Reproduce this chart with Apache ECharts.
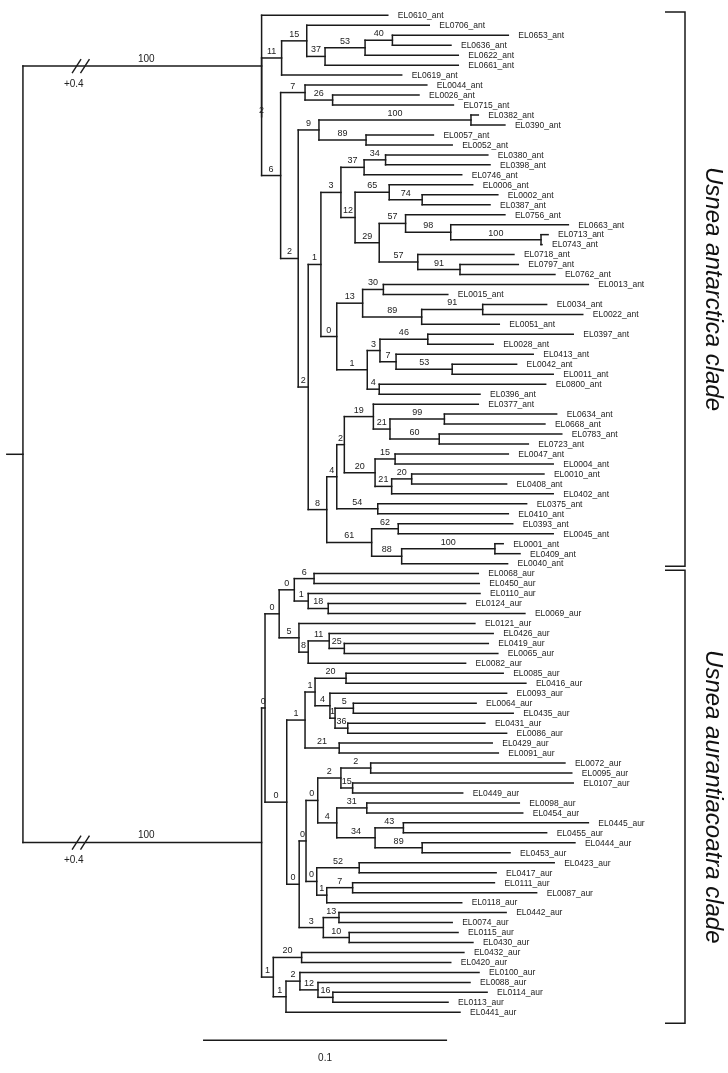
<!DOCTYPE html>
<html>
<head>
<meta charset="utf-8">
<script src="https://cdn.jsdelivr.net/npm/echarts@6/dist/echarts.min.js"></script>
<style>
html,body{margin:0;padding:0;background:#fff;}
#chart{width:728px;height:1073px;}
</style>
</head>
<body>
<div id="chart"></div>
<script>
// ---------------- DATA ----------------
// Leaf (terminal) names, top to bottom
const leafNames = [
 'EL0610_ant','EL0706_ant','EL0653_ant','EL0636_ant','EL0622_ant','EL0661_ant','EL0619_ant','EL0044_ant','EL0026_ant','EL0715_ant',
 'EL0382_ant','EL0390_ant','EL0057_ant','EL0052_ant','EL0380_ant','EL0398_ant','EL0746_ant','EL0006_ant','EL0002_ant','EL0387_ant',
 'EL0756_ant','EL0663_ant','EL0713_ant','EL0743_ant','EL0718_ant','EL0797_ant','EL0762_ant','EL0013_ant','EL0015_ant','EL0034_ant',
 'EL0022_ant','EL0051_ant','EL0397_ant','EL0028_ant','EL0413_ant','EL0042_ant','EL0011_ant','EL0800_ant','EL0396_ant','EL0377_ant',
 'EL0634_ant','EL0668_ant','EL0783_ant','EL0723_ant','EL0047_ant','EL0004_ant','EL0010_ant','EL0408_ant','EL0402_ant','EL0375_ant',
 'EL0410_ant','EL0393_ant','EL0045_ant','EL0001_ant','EL0409_ant','EL0040_ant',
 'EL0068_aur','EL0450_aur','EL0110_aur','EL0124_aur','EL0069_aur','EL0121_aur','EL0426_aur','EL0419_aur','EL0065_aur','EL0082_aur',
 'EL0085_aur','EL0416_aur','EL0093_aur','EL0064_aur','EL0435_aur','EL0431_aur','EL0086_aur','EL0429_aur','EL0091_aur','EL0072_aur',
 'EL0095_aur','EL0107_aur','EL0449_aur','EL0098_aur','EL0454_aur','EL0445_aur','EL0455_aur','EL0444_aur','EL0453_aur','EL0423_aur',
 'EL0417_aur','EL0111_aur','EL0087_aur','EL0118_aur','EL0442_aur','EL0074_aur','EL0115_aur','EL0430_aur','EL0432_aur','EL0420_aur',
 'EL0100_aur','EL0088_aur','EL0114_aur','EL0113_aur','EL0441_aur'
];
// Drawn distance of each leaf from the root (substitutions/site; the two clade stems are drawn 0.4 shorter)
const leafDepth = [
 0.1495,0.1665,0.1989,0.1754,0.1784,0.1784,0.1552,0.1655,0.1623,0.1764,
 0.1866,0.1975,0.1682,0.1759,0.1905,0.1914,0.1798,0.1843,0.1946,0.1914,
 0.1975,0.2235,0.2152,0.2127,0.2012,0.2030,0.2180,0.2317,0.1741,0.2146,
 0.2294,0.1952,0.2255,0.1927,0.2091,0.2023,0.2173,0.2142,0.1873,0.1866,
 0.2187,0.2139,0.2208,0.2071,0.1989,0.2173,0.2135,0.1982,0.2173,0.2064,
 0.1989,0.2007,0.2173,0.1968,0.2037,0.1986,
 0.1866,0.1870,0.1873,0.1814,0.2057,0.1852,0.1927,0.1907,0.1946,0.1814,
 0.1968,0.2061,0.1982,0.1857,0.2009,0.1893,0.1982,0.1923,0.1948,0.2221,
 0.2249,0.2255,0.1802,0.2034,0.2048,0.2317,0.2146,0.2262,0.1996,0.2177,
 0.1939,0.1932,0.2105,0.1798,0.1980,0.1759,0.1783,0.1844,0.1807,0.1753,
 0.1869,0.1832,0.1902,0.1742,0.1791
];
// Internal nodes: [id, childA, childB, drawn depth, bootstrap support of the branch leading to the node]
const nodeTable = [
 ['root','antRoot','aurRoot',0,''],
 ['antRoot','EL0610_ant','a2',0.0978,'100'],
 ['a2','a11','a6',0.0978,'2'],
 ['a11','a15','EL0619_ant',0.1060,'11'],
 ['a15','EL0706_ant','a37',0.1163,'15'],
 ['a37','a53','EL0661_ant',0.1238,'37'],
 ['a53','a40','EL0622_ant',0.1402,'53'],
 ['a40','EL0653_ant','EL0636_ant',0.1514,'40'],
 ['a6','a7','a2b',0.1056,'6'],
 ['a7','EL0044_ant','a26',0.1156,'7'],
 ['a26','EL0026_ant','EL0715_ant',0.1269,'26'],
 ['a2b','a9','a2c',0.1128,'2'],
 ['a9','a100','a89',0.1213,'9'],
 ['a100','EL0382_ant','EL0390_ant',0.1836,'100'],
 ['a89','EL0057_ant','EL0052_ant',0.1406,'89'],
 ['a2c','a1','a8',0.1169,'2'],
 ['a1','a3','a0',0.1221,'1'],
 ['a3','a37b','a12',0.1303,'3'],
 ['a37b','a34','EL0746_ant',0.1398,'37'],
 ['a34','EL0380_ant','EL0398_ant',0.1486,'34'],
 ['a12','a65','a29',0.1361,'12'],
 ['a65','EL0006_ant','a74',0.1501,'65'],
 ['a74','EL0002_ant','EL0387_ant',0.1636,'74'],
 ['a29','a57','a57b',0.1460,'29'],
 ['a57','EL0756_ant','a98',0.1568,'57'],
 ['a98','EL0663_ant','a100b',0.1753,'98'],
 ['a100b','EL0713_ant','EL0743_ant',0.2123,'100'],
 ['a57b','EL0718_ant','a91',0.1618,'57'],
 ['a91','EL0797_ant','EL0762_ant',0.1791,'91'],
 ['a0','a13','a1b',0.1286,'0'],
 ['a13','a30','a89b',0.1392,'13'],
 ['a30','EL0013_ant','EL0015_ant',0.1477,'30'],
 ['a89b','a91b','EL0051_ant',0.1634,'89'],
 ['a91b','EL0034_ant','EL0022_ant',0.1884,'91'],
 ['a1b','a3b','a4',0.1411,'1'],
 ['a3b','a46','a7b',0.1463,'3'],
 ['a46','EL0397_ant','EL0028_ant',0.1659,'46'],
 ['a7b','EL0413_ant','a53b',0.1529,'7'],
 ['a53b','EL0042_ant','EL0011_ant',0.1759,'53'],
 ['a4','EL0800_ant','EL0396_ant',0.1460,'4'],
 ['a8','a4b','a61',0.1245,'8'],
 ['a4b','a2d','a54',0.1286,'4'],
 ['a2d','a19','a20',0.1317,'2'],
 ['a19','EL0377_ant','a21',0.1436,'19'],
 ['a21','a99','a60',0.1504,'21'],
 ['a99','EL0634_ant','EL0668_ant',0.1727,'99'],
 ['a60','EL0783_ant','EL0723_ant',0.1706,'60'],
 ['a20','a15b','a21b',0.1443,'20'],
 ['a15b','EL0047_ant','EL0004_ant',0.1525,'15'],
 ['a21b','a20b','EL0402_ant',0.1511,'21'],
 ['a20b','EL0010_ant','EL0408_ant',0.1593,'20'],
 ['a54','EL0375_ant','EL0410_ant',0.1454,'54'],
 ['a61','a62','a88',0.1429,'61'],
 ['a62','EL0393_ant','EL0045_ant',0.1538,'62'],
 ['a88','a100c','EL0040_ant',0.1552,'88'],
 ['a100c','EL0001_ant','EL0409_ant',0.1934,'100'],
 ['aurRoot','u0','u1e',0.0978,'100'],
 ['u0','u0d','uT',0.0992,'0'],
 ['u0d','u0c','u5',0.1050,'0'],
 ['u0c','u6','u1c',0.1112,'0'],
 ['u6','EL0068_aur','EL0450_aur',0.1193,'6'],
 ['u1c','EL0110_aur','u18',0.1169,'1'],
 ['u18','EL0124_aur','EL0069_aur',0.1251,'18'],
 ['u5','EL0121_aur','u8',0.1131,'5'],
 ['u8','u11','EL0082_aur',0.1169,'8'],
 ['u11','EL0426_aur','u25',0.1255,'11'],
 ['u25','EL0419_aur','EL0065_aur',0.1317,'25'],
 ['uT','uQ','uU',0.1081,'0'],
 ['uQ','uP','u21',0.1156,'1'],
 ['uP','u20','u4',0.1197,'1'],
 ['u20','EL0085_aur','EL0416_aur',0.1324,'20'],
 ['u4','EL0093_aur','uS',0.1258,'4'],
 ['uS','u5b','u36',0.1279,'1'],
 ['u5b','EL0064_aur','EL0435_aur',0.1354,'5'],
 ['u36','EL0431_aur','EL0086_aur',0.1331,'36'],
 ['u21','EL0429_aur','EL0091_aur',0.1296,'21'],
 ['uU','uN','u3',0.1132,'0'],
 ['uN','u0e','u0f',0.1160,'0'],
 ['u0e','u2','u4d',0.1208,'0'],
 ['u2','u2e','u15',0.1303,'2'],
 ['u2e','EL0072_aur','EL0095_aur',0.1425,'2'],
 ['u15','EL0107_aur','EL0449_aur',0.1351,'15'],
 ['u4d','u31','u34',0.1286,'4'],
 ['u31','EL0098_aur','EL0454_aur',0.1409,'31'],
 ['u34','u43','u89',0.1443,'34'],
 ['u43','EL0445_aur','EL0455_aur',0.1559,'43'],
 ['u89','EL0444_aur','EL0453_aur',0.1636,'89'],
 ['u0f','u52','u1f',0.1204,'0'],
 ['u52','EL0423_aur','EL0417_aur',0.1378,'52'],
 ['u1f','u7','EL0118_aur',0.1245,'1'],
 ['u7','EL0111_aur','EL0087_aur',0.1351,'7'],
 ['u3','u13','u10',0.1231,'3'],
 ['u13','EL0442_aur','EL0074_aur',0.1295,'13'],
 ['u10','EL0115_aur','EL0430_aur',0.1337,'10'],
 ['u1e','u20d','uK',0.1026,'1'],
 ['u20d','EL0432_aur','EL0420_aur',0.1142,'20'],
 ['uK','u2f','EL0441_aur',0.1078,'1'],
 ['u2f','EL0100_aur','u12',0.1135,'2'],
 ['u12','EL0088_aur','u16',0.1209,'12'],
 ['u16','EL0114_aur','EL0113_aur',0.1270,'16']
];
const rootStem = 0.0066;            // short stem drawn left of the root
const brokenStems = ['antRoot','aurRoot'];
const breakAt = 0.0237;             // where the // marks sit on the shortened stems
const breakLabel = '+0.4';
const scaleBarStart = 0.0738;
const scaleBarLength = 0.1;
const scaleBarLabel = '0.1';
const cladeNames = ['Usnea antarctica clade','Usnea aurantiacoatra clade'];
const cladeFirstLeaf = [0, 56];
const cladeLastLeaf = [55, 100];

// ---------------- LAYOUT FROM DATA ----------------
const depthOf = {}, yOf = {}, supportOf = {}, kids = {};
leafNames.forEach((n, i) => { depthOf[n] = leafDepth[i]; yOf[n] = i; });
nodeTable.forEach(([id, a, b, d, s]) => { kids[id] = [a, b]; depthOf[id] = d; supportOf[id] = s; });
function getY(id) {
  if (yOf[id] !== undefined) return yOf[id];
  const [a, b] = kids[id];
  yOf[id] = (getY(a) + getY(b)) / 2;
  return yOf[id];
}
nodeTable.forEach(r => getY(r[0]));

const segments = [];
const supportPts = [], supportTxt = [];
nodeTable.forEach(([id, a, b, d]) => {
  segments.push([d, yOf[a], d, yOf[b]]);
  [a, b].forEach(c => {
    segments.push([d, yOf[c], depthOf[c], yOf[c]]);
    if (supportOf[c] !== undefined && supportOf[c] !== '') {
      supportPts.push([(d + depthOf[c]) / 2, yOf[c]]);
      supportTxt.push(supportOf[c]);
    }
  });
});
segments.push([-rootStem, yOf.root, 0, yOf.root]);

const LINE = '#1a1a1a', TEXT = '#222';
const FONT = '"Liberation Sans", Arial, Helvetica, sans-serif';

const chart = echarts.init(document.getElementById('chart'), null, {renderer: 'canvas'});
const option = {
  animation: false,
  backgroundColor: '#ffffff',
  grid: {left: 0, top: 15.3, width: 634, height: 997, containLabel: false},
  xAxis: {type: 'value', min: -0.0094, max: 0.2504, show: false},
  yAxis: {type: 'value', min: 0, max: 100, inverse: true, show: false},
  series: [
    { // branches
      type: 'custom', silent: true, clip: false,
      data: segments,
      encode: {x: [0, 2], y: [1, 3]},
      renderItem: (params, api) => {
        const p1 = api.coord([api.value(0), api.value(1)]);
        const p2 = api.coord([api.value(2), api.value(3)]);
        return {type: 'line', shape: {x1: p1[0], y1: p1[1], x2: p2[0], y2: p2[1]},
          style: {stroke: LINE, lineWidth: 1.5, lineCap: 'square'}};
      }
    },
    { // leaf labels
      type: 'custom', silent: true, clip: false,
      data: leafNames.map((n, i) => [leafDepth[i], i]),
      encode: {x: 0, y: 1},
      renderItem: (params, api) => {
        const p = api.coord([api.value(0), api.value(1)]);
        return {type: 'text', x: p[0] + 10, y: p[1] + 0.5,
          style: {text: leafNames[params.dataIndex], fill: TEXT, font: '8.5px ' + FONT,
            textAlign: 'left', textVerticalAlign: 'middle', align: 'left', verticalAlign: 'middle'}};
      }
    },
    { // bootstrap support labels
      type: 'custom', silent: true, clip: false,
      data: supportPts,
      encode: {x: 0, y: 1},
      renderItem: (params, api) => {
        const p = api.coord([api.value(0), api.value(1)]);
        const big = supportTxt[params.dataIndex] === '100' && api.value(0) < 0.06;
        return {type: 'text', x: p[0] + (big ? 4 : 0), y: p[1] - 2,
          style: {text: supportTxt[params.dataIndex], fill: TEXT, font: (big ? '10px ' : '9px ') + FONT,
            textAlign: 'center', textVerticalAlign: 'bottom', align: 'center', verticalAlign: 'bottom'}};
      }
    },
    { // // break marks and +0.4 labels
      type: 'custom', silent: true, clip: false,
      data: brokenStems.map(id => [breakAt, yOf[id]]),
      encode: {x: 0, y: 1},
      renderItem: (params, api) => {
        const p = api.coord([api.value(0), api.value(1)]);
        const mk = dx => ({type: 'line', shape: {x1: p[0] + dx - 4.5, y1: p[1] + 7, x2: p[0] + dx + 4.5, y2: p[1] - 7},
          style: {stroke: LINE, lineWidth: 1.4}});
        return {type: 'group', children: [
          mk(-4.2), mk(4.2),
          {type: 'text', x: p[0] - 7, y: p[1] + 18,
            style: {text: breakLabel, fill: TEXT, font: '10px ' + FONT,
              textAlign: 'center', textVerticalAlign: 'middle', align: 'center', verticalAlign: 'middle'}}
        ]};
      }
    },
    { // scale bar
      type: 'custom', silent: true, clip: false,
      data: [[scaleBarStart, leafNames.length - 1, scaleBarStart + scaleBarLength]],
      encode: {x: [0, 2], y: 1},
      renderItem: (params, api) => {
        const a = api.coord([api.value(0), api.value(1)]);
        const b = api.coord([api.value(2), api.value(1)]);
        const y = a[1] + 28;
        return {type: 'group', children: [
          {type: 'line', shape: {x1: a[0], y1: y, x2: b[0], y2: y}, style: {stroke: LINE, lineWidth: 1.5}},
          {type: 'text', x: (a[0] + b[0]) / 2, y: y + 18,
            style: {text: scaleBarLabel, fill: TEXT, font: '10px ' + FONT,
              textAlign: 'center', textVerticalAlign: 'middle', align: 'center', verticalAlign: 'middle'}}
        ]};
      }
    },
    { // clade brackets and names
      type: 'custom', silent: true, clip: false,
      data: cladeNames.map((n, i) => [0.25, cladeFirstLeaf[i], cladeLastLeaf[i]]),
      encode: {x: 0, y: [1, 2]},
      renderItem: (params, api) => {
        const i = params.dataIndex;
        const top = api.coord([0, api.value(1)])[1] - 3.3;
        const bot = api.coord([0, api.value(2)])[1] + (i === 0 ? 2.5 : 11);
        const xv = 685, xl = 665;
        return {type: 'group', children: [
          {type: 'polyline', shape: {points: [[xl, top], [xv, top], [xv, bot], [xl, bot]]},
            style: {stroke: LINE, lineWidth: 1.5, fill: null}},
          {type: 'text', x: 713, y: (top + bot) / 2, rotation: -Math.PI / 2,
            style: {text: cladeNames[i], fill: '#111', font: 'italic 24px ' + FONT,
              textAlign: 'center', textVerticalAlign: 'middle', align: 'center', verticalAlign: 'middle'}}
        ]};
      }
    }
  ]
};
chart.setOption(option);
</script>
</body>
</html>
